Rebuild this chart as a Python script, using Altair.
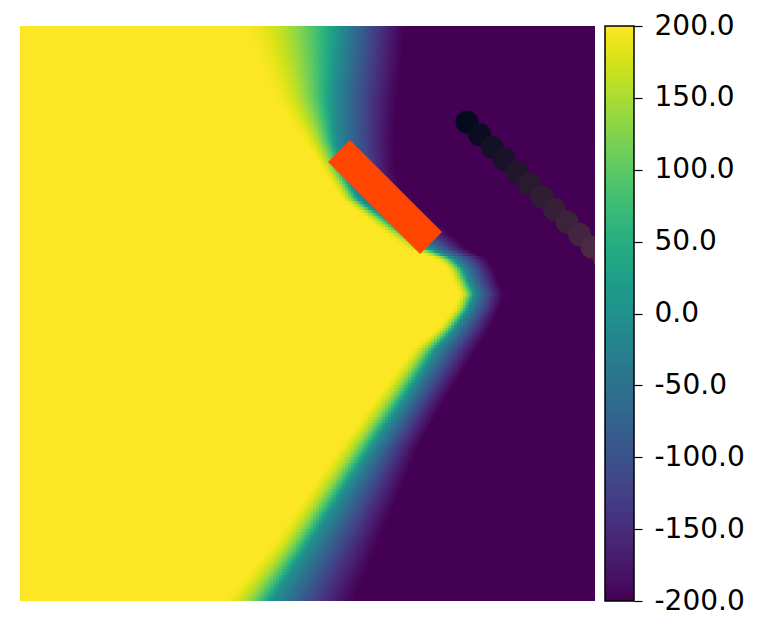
import altair as alt
import numpy as np
import pandas as pd

# ---- values read from the picture (plot units: 0..575 across, y measured downward) ----
# per-row transition of the field: where it is fully +200 (yellow), where it crosses 0 (teal),
# and where it is fully -200 (purple)
row_y      = [0,   33,  73,  113, 143, 173, 203, 223, 233, 243, 268, 283, 303, 323, 373, 423, 473, 523, 575]
yellow_end = [215, 230, 250, 280, 300, 320, 358, 385, 415, 425, 438, 432, 415, 390, 352, 315, 280, 245, 200]
zero_x     = [320, 317, 313, 315, 322, 338, 380, 410, 433, 443, 454, 448, 434, 416, 384, 350, 318, 286, 252]
purple_x   = [385, 383, 378, 375, 375, 385, 425, 448, 468, 474, 484, 480, 470, 458, 426, 398, 378, 357, 335]

value_min, value_max = -200, 200
tick_values = [-200, -150, -100, -50, 0, 50, 100, 150, 200]

# orange obstacle (centre line from one short edge to the other) and its width
obstacle_x = [319, 411]
obstacle_y = [125, 217]
obstacle_color = "#ff4500"

# trail of circles (centres) and their colours
trail_x = [447, 459.5, 472, 484.5, 497, 509.5, 522, 534.5, 547, 559.5, 572, 584.5]
trail_y = [96, 108.5, 121, 133.5, 146, 158.5, 171, 183.5, 196, 208.5, 221, 233.5]
trail_colors = ["#060a1e", "#0b0b22", "#141026", "#1b1229", "#22162c", "#2a1a30",
                "#301c33", "#371f38", "#3d223c", "#44253f", "#4b2843", "#522b47"]

# ---- build the heatmap table from the read boundaries ----
N = 200
SIZE = 575.0
cell = SIZE / N
OV = 1.2  # overlap so neighbouring cells show no seams
centres = (np.arange(N) + 0.5) * cell
A = np.interp(centres, row_y, yellow_end)
T = np.interp(centres, row_y, zero_x)
P = np.interp(centres, row_y, purple_x)

rows = []
for r in range(N):
    a, t, p = A[r], T[r], P[r]
    vals = []
    for xc in centres:
        if xc <= a:
            v = 200.0
        elif xc <= t:
            f = (t - xc) / (t - a)
            v = 200.0 * (1 - (1 - f) ** 2)
        elif xc <= p:
            f = (xc - t) / (p - t)
            v = -200.0 * (1 - (1 - f) ** 1.3)
        else:
            v = -200.0
        vals.append(v)
    j = 0
    while j < N:
        k = j
        if abs(vals[j]) == 200.0:
            while k + 1 < N and vals[k + 1] == vals[j]:
                k += 1
        rows.append({"x": j * cell, "x2": min((k + 1) * cell + OV, SIZE),
                     "y": r * cell, "y2": min((r + 1) * cell + OV, SIZE), "v": vals[j]})
        j = k + 1
heat = pd.DataFrame(rows)

xs = alt.Scale(domain=[0, SIZE], nice=False, zero=False)
ys = alt.Scale(domain=[0, SIZE], nice=False, zero=False, reverse=True)
cs = alt.Scale(scheme="viridis", domain=[value_min, value_max], clamp=True)

heatmap = alt.Chart(heat).mark_rect(strokeWidth=0).encode(
    x=alt.X("x:Q", scale=xs, axis=None),
    x2="x2:Q",
    y=alt.Y("y:Q", scale=ys, axis=None),
    y2="y2:Q",
    color=alt.Color("v:Q", scale=cs, legend=None),
)

obs = pd.DataFrame({"x": obstacle_x, "y": obstacle_y, "o": [0, 1]})
obstacle = alt.Chart(obs).mark_line(strokeWidth=31, strokeCap="butt", color=obstacle_color).encode(
    x=alt.X("x:Q", scale=xs), y=alt.Y("y:Q", scale=ys), order="o:Q"
)

trail_df = pd.DataFrame({"x": trail_x, "y": trail_y, "c": trail_colors, "o": range(len(trail_x))})
trail = alt.Chart(trail_df).mark_circle(size=529, opacity=1, clip=True).encode(
    x=alt.X("x:Q", scale=xs), y=alt.Y("y:Q", scale=ys),
    color=alt.Color("c:N", scale=None), order="o:Q"
)

main = alt.layer(heatmap, obstacle, trail).properties(width=575, height=575)

# ---- colorbar ----
edges = np.linspace(value_min, value_max, 201)
cb = pd.DataFrame({"y": edges[:-1], "y2": np.minimum(edges[1:] + 1.0, value_max),
                   "v": (edges[:-1] + edges[1:]) / 2})
bar = alt.Chart(cb).mark_rect(strokeWidth=0).encode(
    y=alt.Y("y:Q", scale=alt.Scale(domain=[value_min, value_max], nice=False, zero=False),
            axis=alt.Axis(orient="right", values=tick_values, title=None,
                          labelExpr="(datum.value < 0 ? '-' : '') + format(abs(datum.value), '.1f')",
                          domain=False, grid=False, tickSize=8, tickWidth=1.2,
                          tickColor="black", labelColor="black", labelFont="DejaVu Sans",
                          labelFontSize=28, labelPadding=12)),
    y2="y2:Q",
    color=alt.Color("v:Q", scale=cs, legend=None),
)
frame = alt.Chart(pd.DataFrame({"a": [0]})).mark_rect(filled=False, stroke="black", strokeWidth=1.5).encode(
    x=alt.value(0), x2=alt.value(29), y=alt.value(0), y2=alt.value(575)
)
colorbar = alt.layer(bar, frame).properties(width=29, height=575)

chart = alt.hconcat(main, colorbar, spacing=9).properties(
    padding={"left": 12, "top": 4, "right": 0, "bottom": 5}
).configure_view(stroke=None)

chart.save("out.html", embed_options={"renderer": "svg", "actions": False})
